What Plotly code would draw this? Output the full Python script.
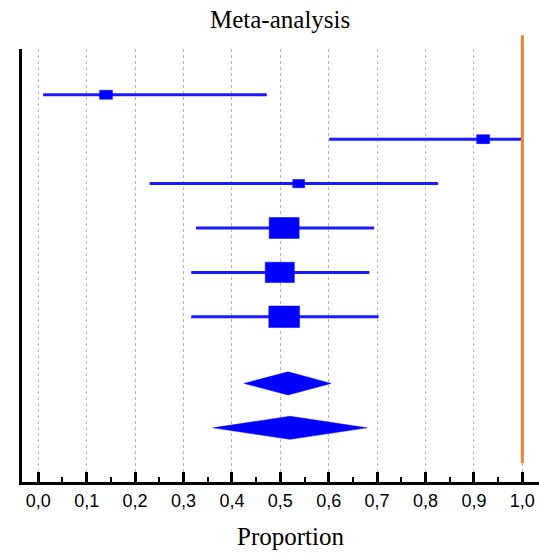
import plotly.graph_objects as go

# ---- data ----
rows = [1, 2, 3, 4, 5, 6]
est = [0.140, 0.919, 0.538, 0.508, 0.499, 0.508]
lo = [0.010, 0.601, 0.230, 0.326, 0.316, 0.316]
hi = [0.472, 1.000, 0.826, 0.694, 0.684, 0.703]
weights = [3.5, 3.5, 3.0, 19.0, 18.0, 20.0]

pooled_rows = [7.5, 8.5]
pooled_est = [0.516, 0.520]
pooled_lo = [0.425, 0.361]
pooled_hi = [0.605, 0.679]

ref_value = 1.0
xtick_vals = [0.0, 0.1, 0.2, 0.3, 0.4, 0.5, 0.6, 0.7, 0.8, 0.9, 1.0]
title_text = "Meta-analysis"
xlabel_text = "Proportion"

BLUE = "#0000ff"
LINE_BLUE = "#1a1aff"
ORANGE = "#ef7f2f"

fig = go.Figure()

# CI lines
lx, ly = [], []
for r, a, b in zip(rows, lo, hi):
    lx += [a, b, None]
    ly += [r, r, None]
fig.add_trace(go.Scatter(x=lx, y=ly, mode="lines",
                         line=dict(color=LINE_BLUE, width=3),
                         hoverinfo="skip", showlegend=False))

# weight boxes
kx, ky = 0.0071, 0.054
bx, by = [], []
for r, e, w in zip(rows, est, weights):
    s = w ** 0.5
    hw, hh = kx * s, ky * s
    bx += [e - hw, e + hw, e + hw, e - hw, e - hw, None]
    by += [r - hh, r - hh, r + hh, r + hh, r - hh, None]
fig.add_trace(go.Scatter(x=bx, y=by, mode="lines", fill="toself",
                         fillcolor=BLUE, line=dict(color=BLUE, width=0.5),
                         hoverinfo="skip", showlegend=False))

# pooled diamonds
dh = 0.26
for r, e, a, b in zip(pooled_rows, pooled_est, pooled_lo, pooled_hi):
    fig.add_trace(go.Scatter(x=[a, e, b, e, a], y=[r, r - dh, r, r + dh, r],
                             mode="lines", fill="toself", fillcolor=BLUE,
                             line=dict(color=BLUE, width=0.5),
                             hoverinfo="skip", showlegend=False))

# reference line
fig.add_shape(type="line", xref="x", yref="paper", x0=ref_value, x1=ref_value,
              y0=0.044, y1=1.032, line=dict(color=ORANGE, width=3), layer="above")

fig.add_annotation(text=title_text, xref="paper", yref="paper",
                   x=(280 - 22) / 517, y=1 + (49 - 19) / 433, showarrow=False,
                   xanchor="center", yanchor="middle",
                   font=dict(family="Liberation Serif", size=25, color="black"))
fig.add_annotation(text=xlabel_text, xref="paper", yref="paper",
                   x=(290 - 22) / 517, y=-(536 - 482) / 433, showarrow=False,
                   xanchor="center", yanchor="middle",
                   font=dict(family="Liberation Serif", size=25, color="black"))

fig.update_layout(
    width=539, height=553,
    margin=dict(l=22, r=0, t=49, b=71),
    paper_bgcolor="white", plot_bgcolor="white",
    separators=",.",
    hovermode=False,
    xaxis=dict(range=[-0.0336, 1.0344], tickvals=xtick_vals, tickformat=".1f",
               showgrid=True, gridcolor="#b4b4b4", griddash="dot", gridwidth=1,
               showline=True, linecolor="black", linewidth=3, mirror=False,
               ticks="inside", ticklen=10, tickwidth=3, tickcolor="black",
               minor=dict(dtick=0.05, tick0=0, ticks="inside", ticklen=5,
                          tickwidth=2, tickcolor="black", showgrid=False),
               tickfont=dict(family="Liberation Sans", size=18, color="black"),
               zeroline=False, fixedrange=True),
    yaxis=dict(range=[9.72, -0.03], showgrid=False, showticklabels=False,
               ticks="", showline=True, linecolor="black", linewidth=3,
               zeroline=False, fixedrange=True),
)

fig.write_html("out.html",
               config={"displayModeBar": False, "staticPlot": True},
               post_script="document.body.style.margin='0';"
                           "document.documentElement.style.overflow='hidden';")
